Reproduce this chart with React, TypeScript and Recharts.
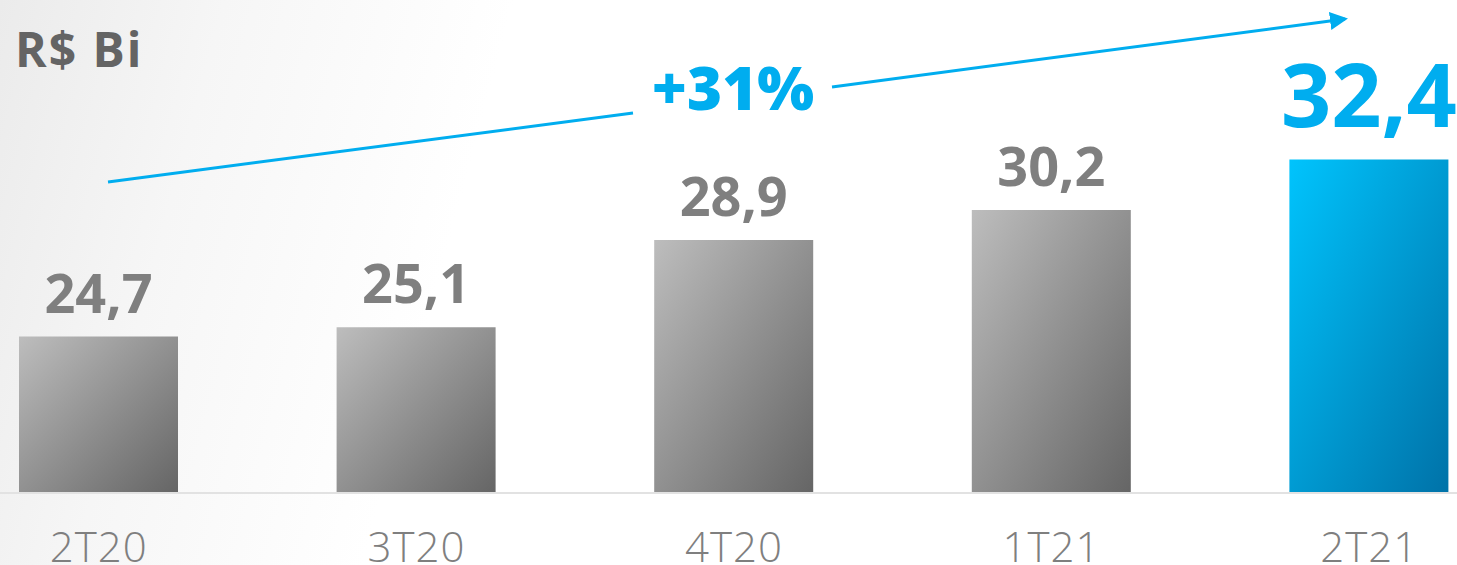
import { BarChart, Bar, XAxis, YAxis, LabelList, Cell } from 'recharts'

const quarters = ['2T20', '3T20', '4T20', '1T21', '2T21']
const values = [24.7, 25.1, 28.9, 30.2, 32.4]
const valueLabels = ['24,7', '25,1', '28,9', '30,2', '32,4']
const unitLabel = 'R$ Bi'
const growthLabel = '+31%'

const data = quarters.map((q, i) => ({ q, v: values[i], label: valueLabels[i] }))

const GRAY_TEXT = '#7f7f7f'
const BLUE = '#00adef'
const FONT = '"Open Sans", "DejaVu Sans", sans-serif'

const ValueLabel = (props: any) => {
  const { x, y, width, index, value } = props
  const last = index === quarters.length - 1
  return (
    <text
      x={x + width / 2}
      y={y - (last ? 32 : 24)}
      textAnchor='middle'
      fontFamily={FONT}
      fontWeight={700}
      fontSize={last ? 88 : 54}
      fill={last ? BLUE : GRAY_TEXT}
    >
      {value}
    </text>
  )
}

const QuarterTick = (props: any) => {
  const { x, y, payload } = props
  return (
    <text
      x={x}
      y={y + 69}
      textAnchor='middle'
      fontFamily={FONT}
      fontWeight={300}
      fontSize={42}
      letterSpacing={1}
      fill={GRAY_TEXT}
    >
      {payload.value}
    </text>
  )
}

const App = () => {
  return (
    <div
      style={{
        position: 'absolute',
        top: 0,
        left: 0,
        width: 1457,
        height: 565,
        overflow: 'hidden',
        background:
          'linear-gradient(105deg, #ebebeb 0%, #f6f6f6 14%, #ffffff 32%)',
      }}
    >
      {/* bars */}
      <div style={{ position: 'absolute', left: -60, top: 0 }}>
        <BarChart
          width={1588}
          height={565}
          data={data}
          margin={{ top: 60, right: 0, left: 0, bottom: 0 }}
          barSize={159}
        >
          <defs>
            <linearGradient id='grayBar' x1='0' y1='0' x2='1' y2='1'>
              <stop offset='0%' stopColor='#bdbdbd' />
              <stop offset='100%' stopColor='#656565' />
            </linearGradient>
            <linearGradient id='blueBar' x1='0' y1='0' x2='1' y2='1'>
              <stop offset='0%' stopColor='#00c4fd' />
              <stop offset='100%' stopColor='#0072a8' />
            </linearGradient>
          </defs>
          <XAxis
            dataKey='q'
            height={72}
            tickLine={false}
            tickSize={0}
            tickMargin={0}
            axisLine={{ stroke: '#e2e2e2', strokeWidth: 2 }}
            tick={<QuarterTick />}
            interval={0}
          />
          <YAxis hide domain={[17.9, 36.72]} allowDataOverflow />
          <Bar dataKey='v' isAnimationActive={false}>
            {data.map((d, i) => (
              <Cell
                key={d.q}
                fill={i === data.length - 1 ? 'url(#blueBar)' : 'url(#grayBar)'}
              />
            ))}
            <LabelList dataKey='label' content={<ValueLabel />} />
          </Bar>
        </BarChart>
      </div>

      {/* annotations */}
      <svg
        width={1457}
        height={565}
        style={{ position: 'absolute', left: 0, top: 0, pointerEvents: 'none' }}
      >
        <defs>
          <marker
            id='arrowHead'
            markerWidth='6'
            markerHeight='6'
            refX='5'
            refY='3'
            orient='auto'
            markerUnits='strokeWidth'
          >
            <path d='M0,0 L6,3 L0,6 Z' fill={BLUE} />
          </marker>
        </defs>
        <text
          x={15}
          y={67}
          fontFamily={FONT}
          fontWeight={700}
          fontSize={48}
          letterSpacing={2}
          fill='#646464'
        >
          {unitLabel}
        </text>
        <line x1={108} y1={182} x2={633} y2={113} stroke={BLUE} strokeWidth={3} />
        <line
          x1={832}
          y1={87}
          x2={1345}
          y2={19}
          stroke={BLUE}
          strokeWidth={3}
          markerEnd='url(#arrowHead)'
        />
        <text
          x={733}
          y={110}
          textAnchor='middle'
          fontFamily={FONT}
          fontWeight={800}
          fontSize={60}
          fill={BLUE}
        >
          {growthLabel}
        </text>
      </svg>
    </div>
  )
}

export default App
